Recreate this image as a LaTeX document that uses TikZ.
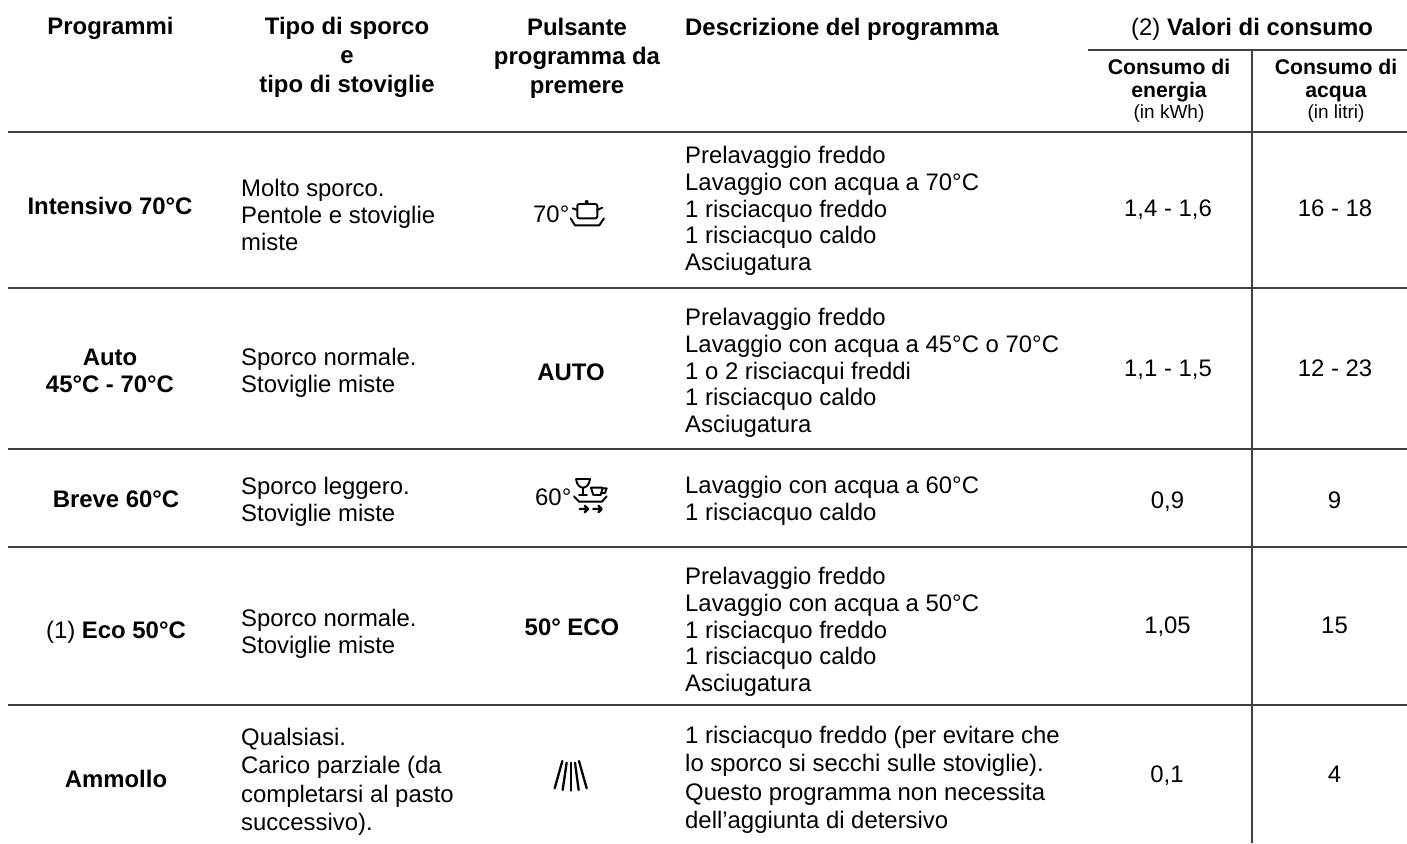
\documentclass[tikz,border=0pt]{standalone}
\usepackage{fontspec}
\setmainfont{Liberation Sans}
\tikzset{
 pxs/.style={x=1pt,y=-1pt},
 rule/.style={line width=1.3pt,draw=black!75},
 base/.style={inner sep=0pt,font=\fontsize{23.9}{26.7}\selectfont,text=black},
 lft/.style={base,anchor=west,align=left},
 ctr/.style={base,anchor=center,align=center},
 val/.style={base,anchor=base},
 hd/.style={ctr,font=\fontsize{23.9}{27}\selectfont\bfseries},
 hdt/.style={ctr,font=\fontsize{23.9}{29}\selectfont\bfseries},
 sub/.style={ctr,font=\fontsize{21.2}{22.5}\selectfont\bfseries},
 icon/.style={line width=1.9pt,line cap=round,line join=round,draw=black},
 rays/.style={line width=2.3pt,line cap=round,draw=black}
}
\begin{document}
\begin{tikzpicture}[pxs]
\useasboundingbox (0,0) rectangle (1407,843);
\node[hd] (h1) at (110.5,28) {Programmi};
\node[hdt] (h2) at (347,57) {Tipo di sporco\\e\\tipo di stoviglie};
\node[hdt] (h3) at (577,58) {Pulsante\\programma da\\premere};
\node[hd,anchor=west] (h4) at (685,29) {Descrizione del programma};
\node[ctr] (h5) at (1252,29) {(2) \textbf{Valori di consumo}};
\node[sub] (h6) at (1169,91) {Consumo di\\energia\\[-1pt]{\fontsize{19}{20}\selectfont\mdseries (in kWh)}};
\node[sub] (h7) at (1336,91) {Consumo di\\acqua\\[-1pt]{\fontsize{19}{20}\selectfont\mdseries (in litri)}};
\coordinate (l1a) at (1088,50); \coordinate (l1b) at (1407,50);
\draw[rule] (l1a) -- (l1b);
\coordinate (v1a) at (1252,50); \coordinate (v1b) at (1252,843);
\draw[rule] (v1a) -- (v1b);
\foreach \y/\n in {132/a,288/b,449/c,547/d,705/e}{
 \coordinate (s\n) at (8,\y); \coordinate (t\n) at (1407,\y);
 \draw[rule] (s\n) -- (t\n);
}
% row 1
\node[hd] (p1) at (110,206) {Intensivo 70°C};
\node[lft] (t1) at (241,215) {Molto sporco.\\Pentole e stoviglie\\miste};
\node[base,anchor=west] (k1) at (533,214) {70°};
\node[lft] (d1) at (685,211) {Prelavaggio freddo\\Lavaggio con acqua a 70°C\\1 risciacquo freddo\\1 risciacquo caldo\\Asciugatura};
\node[val] (e1) at (1168,216) {1,4 - 1,6};
\node[val] (w1) at (1335,216) {16 - 18};
% row 2
\node[hd] (p2) at (110,371) {Auto\\45°C - 70°C};
\node[lft] (t2) at (241,373) {Sporco normale.\\Stoviglie miste};
\node[hd] (k2) at (571,372) {AUTO};
\node[lft] (d2) at (685,373) {Prelavaggio freddo\\Lavaggio con acqua a 45°C o 70°C\\1 o 2 risciacqui freddi\\1 risciacquo caldo\\Asciugatura};
\node[val] (e2) at (1168,376) {1,1 - 1,5};
\node[val] (w2) at (1335,376) {12 - 23};
% row 3
\node[hd] (p3) at (116,499) {Breve 60°C};
\node[lft] (t3) at (241,502) {Sporco leggero.\\Stoviglie miste};
\node[base,anchor=west] (k3) at (535,497) {60°};
\node[lft] (d3) at (685,501) {Lavaggio con acqua a 60°C\\1 risciacquo caldo};
\node[val] (e3) at (1167.5,508) {0,9};
\node[val] (w3) at (1334.5,508) {9};
% row 4
\node[ctr] (p4) at (116,632) {(1) \textbf{Eco 50°C}};
\node[lft] (t4) at (241,634) {Sporco normale.\\Stoviglie miste};
\node[hd] (k4) at (572,627) {50° ECO};
\node[lft] (d4) at (685,632) {Prelavaggio freddo\\Lavaggio con acqua a 50°C\\1 risciacquo freddo\\1 risciacquo caldo\\Asciugatura};
\node[val] (e4) at (1167.5,633) {1,05};
\node[val] (w4) at (1334.5,633) {15};
% row 5
\node[hd] (p5) at (116,779) {Ammollo};
\node[lft,font=\fontsize{23.9}{28.4}\selectfont] (t5) at (241,782) {Qualsiasi.\\Carico parziale (da\\completarsi al pasto\\successivo).};
\node[lft,font=\fontsize{23.9}{28.4}\selectfont] (d5) at (685,780) {1 risciacquo freddo (per evitare che\\lo sporco si secchi sulle stoviglie).\\Questo programma non necessita\\dell’aggiunta di detersivo};
\node[val] (e5) at (1167,782) {0,1};
\node[val] (w5) at (1334.5,782) {4};
% pot icon
\begin{scope}[shift={(480,190)},x=0.3333pt,y=-0.3333pt]
 \draw[icon,rounded corners=2pt] (292,42) -- (352,42) -- (352,85) -- (292,85) -- cycle;
 \fill (320,36) circle[radius=6];
 \draw[icon] (278,55) -- (292,60) (352,60) -- (367,53);
 \draw[icon] (272,85) -- (285,106) -- (358,106) -- (372,85);
\end{scope}
% glass and cup icon
\begin{scope}[shift={(530,465)},x=0.3333pt,y=-0.3333pt]
 \draw[icon] (138,42) -- (180,42) .. controls (178,60) and (168,68) .. (159,68) .. controls (150,68) and (140,60) .. (138,42);
 \draw[icon] (159,68) -- (159,90) (147,90) -- (171,90);
 \draw[icon] (183,68) -- (218,68) -- (212,90) -- (190,90) -- cycle;
 \draw[icon] (218,70) -- (230,70) -- (225,84) -- (214,84);
 \draw[icon] (132,94) -- (147,110) -- (216,110) -- (230,94);
 \draw[icon,line width=2.3pt] (149,132) -- (172,132) (164,122) -- (174,132) -- (164,142);
 \draw[icon,line width=2.3pt] (190,132) -- (213,132) (205,122) -- (215,132) -- (205,142);
\end{scope}
% rinse icon
\begin{scope}[shift={(480,750)},x=0.3333pt,y=-0.3333pt]
 \draw[rays] (247,33) -- (224,115);
 \draw[rays] (260,38) -- (248,120);
 \draw[rays] (272,38) -- (272,122);
 \draw[rays] (285,38) -- (296,120);
 \draw[rays] (297,33) -- (320,115);
\end{scope}
\end{tikzpicture}
\end{document}
